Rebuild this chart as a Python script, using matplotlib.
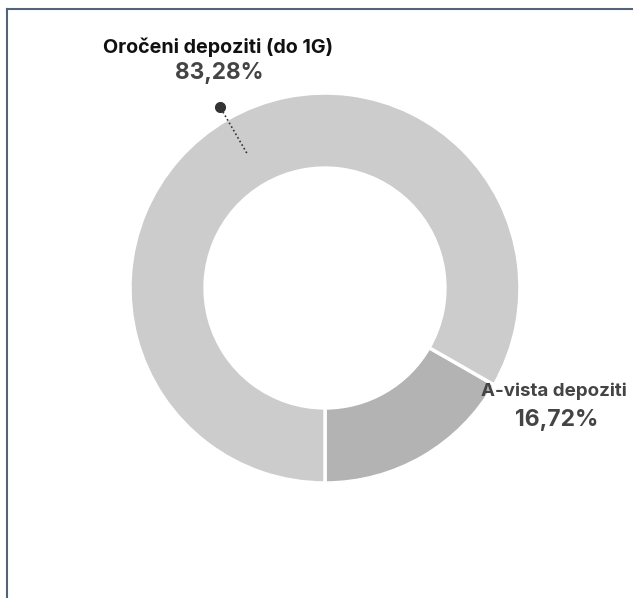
import numpy as np
import matplotlib.pyplot as plt
from matplotlib.lines import Line2D

labels = ["A-vista depoziti", "Oročeni depoziti (do 1G)"]
values = [16.72, 83.28]
pct_labels = ["16,72%", "83,28%"]
colors = ["#b3b3b3", "#cccccc"]

plt.rcParams["font.family"] = ["Inter", "DejaVu Sans"]

W, H = 633, 598
fig = plt.figure(figsize=(W / 100, H / 100), dpi=100)

# donut placed by pixel geometry
cx, cy, r = 325, 288, 195
ax = fig.add_axes([(cx - r) / W, (H - cy - r) / H, 2 * r / W, 2 * r / H])
wedges, _ = ax.pie(values, colors=colors, startangle=-90, counterclock=True,
                   radius=1, wedgeprops=dict(width=0.385, edgecolor="white", linewidth=2.5))
ax.set_xlim(-1, 1)
ax.set_ylim(-1, 1)
ax.set_aspect("equal")
ax.axis("off")

def to_data(px, py):
    return (px - cx) / r, (cy - py) / r

# leader for the big slice
w = wedges[1]
mid = np.deg2rad((w.theta1 + w.theta2) / 2)
x0, y0 = 0.80 * np.cos(mid), 0.80 * np.sin(mid)
x1, y1 = 1.07 * np.cos(mid), 1.07 * np.sin(mid)
ax.plot([x0, x1], [y0, y1], color="#333333", lw=1.2, ls=(0, (1, 1.5)), clip_on=False)
ax.plot([x1], [y1], "o", color="#333333", ms=7, clip_on=False)

tx, ty = to_data(218, 47)
ax.text(tx, ty, labels[1], ha="center", va="center", fontsize=14.2,
        fontweight="bold", color="#111111")
tx, ty = to_data(219, 73)
ax.text(tx, ty, pct_labels[1], ha="center", va="center", fontsize=16.3,
        fontweight="bold", color="#444444")

tx, ty = to_data(554, 391)
ax.text(tx, ty, labels[0], ha="center", va="center", fontsize=13.5,
        fontweight="bold", color="#444444")
tx, ty = to_data(557, 420)
ax.text(tx, ty, pct_labels[0], ha="center", va="center", fontsize=16.5,
        fontweight="bold", color="#444444")

# frame (top and left edges visible)
fc = "#56627a"
fig.add_artist(Line2D([7.5 / W, 1.0], [1 - 9 / H, 1 - 9 / H], color=fc, lw=1.5,
                      transform=fig.transFigure))
fig.add_artist(Line2D([7.5 / W, 7.5 / W], [0, 1 - 9 / H], color=fc, lw=1.5,
                      transform=fig.transFigure))

fig.savefig("out.png", dpi=100)
